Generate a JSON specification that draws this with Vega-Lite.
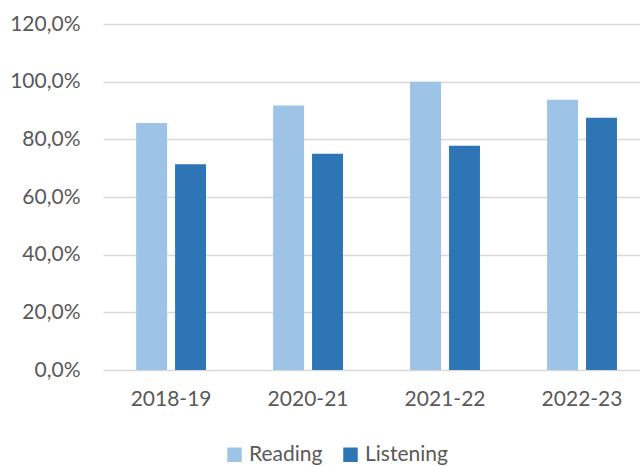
{
  "$schema": "https://vega.github.io/schema/vega-lite/v6.json",
  "width": 537,
  "height": 346,
  "autosize": {"type": "none"},
  "padding": {"left": 103, "top": 24, "right": 0, "bottom": 96},
  "background": "white",
  "config": {
    "view": {"stroke": null},
    "font": "Lato",
    "axis": {"labelFont": "Lato", "labelColor": "#595959", "labelFontSize": 21, "domain": false, "ticks": false, "title": null},
    "legend": {"labelFont": "Lato", "labelColor": "#595959", "labelFontSize": 21}
  },
  "data": {
    "values": [
      {"year": "2018-19", "series": "Reading", "value": 0.857},
      {"year": "2018-19", "series": "Listening", "value": 0.714},
      {"year": "2020-21", "series": "Reading", "value": 0.917},
      {"year": "2020-21", "series": "Listening", "value": 0.75},
      {"year": "2021-22", "series": "Reading", "value": 1.0},
      {"year": "2021-22", "series": "Listening", "value": 0.778},
      {"year": "2022-23", "series": "Reading", "value": 0.9375},
      {"year": "2022-23", "series": "Listening", "value": 0.875}
    ]
  },
  "mark": {"type": "bar"},
  "encoding": {
    "x": {
      "field": "year", "type": "nominal", "sort": null,
      "scale": {"paddingInner": 0.49, "paddingOuter": 0.205, "align": 0.59},
      "axis": {"labelAngle": 0, "labelPadding": 18, "grid": false}
    },
    "xOffset": {
      "field": "series", "type": "nominal", "sort": ["Reading", "Listening"],
      "scale": {"paddingInner": 0.205, "paddingOuter": 0}
    },
    "y": {
      "field": "value", "type": "quantitative",
      "scale": {"domain": [0, 1.2], "nice": false},
      "axis": {
        "values": [0, 0.2, 0.4, 0.6, 0.8, 1.0, 1.2],
        "labelExpr": "replace(format(datum.value, '.1%'), '.', ',')",
        "labelPadding": 23,
        "gridColor": "#d9d9d9",
        "gridWidth": 1.5
      }
    },
    "color": {
      "field": "series", "type": "nominal",
      "scale": {"domain": ["Reading", "Listening"], "range": ["#9dc3e6", "#2e75b6"]},
      "legend": {
        "title": null,
        "orient": "none",
        "direction": "horizontal",
        "legendX": 121,
        "legendY": 420,
        "symbolType": "square",
        "symbolSize": 210,
        "symbolStrokeWidth": 0,
        "labelOffset": 4,
        "columnPadding": 17
      }
    }
  }
}
